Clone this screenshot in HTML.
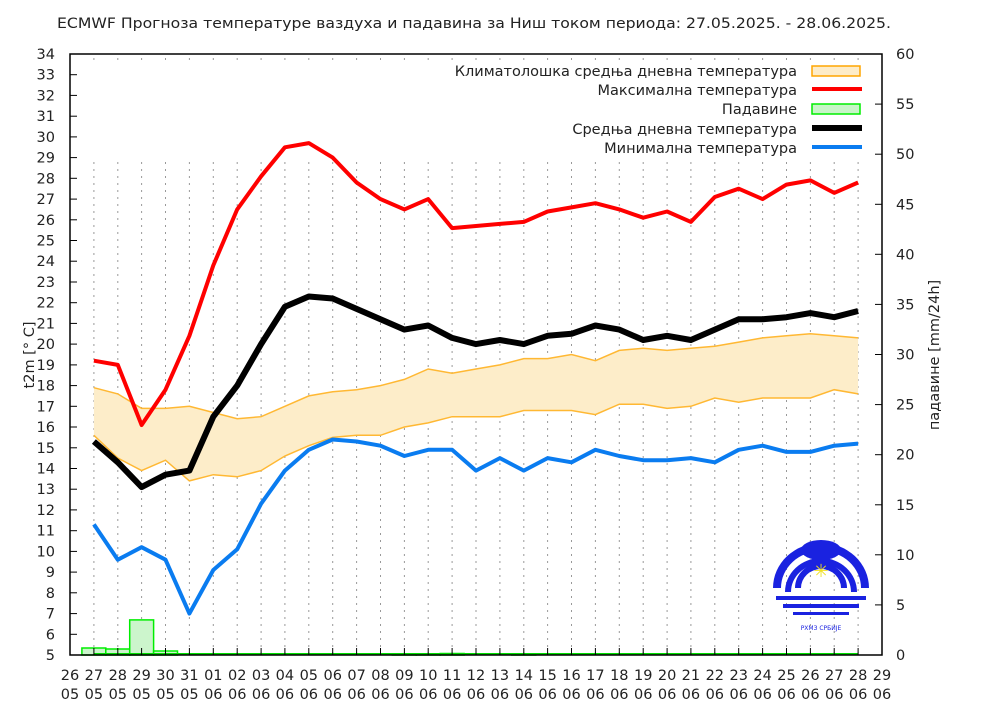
<!DOCTYPE html>
<html><head><meta charset="utf-8"><style>
html,body{margin:0;padding:0;background:#fff;}
svg{display:block;font-family:"DejaVu Sans","Liberation Sans",sans-serif;}
</style></head><body>
<svg id="s" width="996" height="712" viewBox="0 0 996 712" xmlns="http://www.w3.org/2000/svg">
<rect width="996" height="712" fill="#fff"/>
<text x="474" y="28" font-size="14.5" text-anchor="middle" fill="#222" textLength="834" lengthAdjust="spacingAndGlyphs">ECMWF Прогноза температуре ваздуха и падавина за Ниш током периода: 27.05.2025. - 28.06.2025.</text>
<g id="g"></g>
<text transform="translate(34,355) rotate(-90)" font-size="14.5" text-anchor="middle" fill="#222">t2m [° C]</text>
<text transform="translate(939,355) rotate(-90)" font-size="14.5" text-anchor="middle" fill="#222">падавине [mm/24h]</text>
<g font-size="14.5" fill="#222" text-anchor="end">
<text x="797" y="76">Климатолошка средња дневна температура</text>
<text x="797" y="95">Максимална температура</text>
<text x="797" y="114">Падавине</text>
<text x="797" y="134">Средња дневна температура</text>
<text x="797" y="153">Минимална температура</text>
</g>
<rect x="812" y="66" width="48" height="10" fill="#fdecc8" stroke="#ffa500" stroke-width="1.5"/>
<line x1="812" y1="89" x2="862" y2="89" stroke="#ff0000" stroke-width="4"/>
<rect x="812" y="104" width="48" height="10" fill="#c8f5c8" stroke="#00ee00" stroke-width="1.5"/>
<line x1="812" y1="128" x2="862" y2="128" stroke="#000" stroke-width="6"/>
<line x1="812" y1="147" x2="862" y2="147" stroke="#0a7cf0" stroke-width="4"/>
<g transform="translate(821,578)">
<path d="M-48,10 A48,45 0 1 1 48,10 L40,10 A40,37 0 1 0 -40,10 Z" fill="#1a22e0"/>
<path d="M-36,14 A36,34 0 1 1 36,14 L30,14 A30,28 0 1 0 -30,14 Z" fill="#1a22e0"/>
<path d="M-26,10 A26,25 0 1 1 26,10 L20,10 A20,19 0 1 0 -20,10 Z" fill="#1a22e0"/>
<rect x="-45" y="18" width="90" height="4" fill="#1a22e0"/>
<rect x="-38" y="26" width="76" height="4" fill="#1a22e0"/>
<rect x="-28" y="34" width="56" height="3" fill="#1a22e0"/>
<ellipse cx="0" cy="-28" rx="20" ry="10" fill="#1a22e0"/>
<text x="0" y="-1" font-size="18" fill="#f0e020" text-anchor="middle">✳</text>
<text x="0" y="52" font-size="6" fill="#1a22e0" text-anchor="middle">РХМЗ СРБИЈЕ</text>
</g>
</svg>
<script>
const g=document.getElementById('g');
const L=70,R=882,T=54,B=655,dx=(R-L)/34;
const Y=v=>T+(34-v)*(B-T)/29, P=v=>B-v*(B-T)/60, X=i=>L+i*dx;
let h='';
for(let i=1;i<34;i++){const x=X(i).toFixed(1);h+=`<line x1="${x}" y1="58" x2="${x}" y2="64" stroke="#999" stroke-dasharray="2,5"/><line x1="${x}" y1="162" x2="${x}" y2="${B}" stroke="#999" stroke-dasharray="2,5"/>`;}
const mx=[19.2,19.0,16.1,17.8,20.4,23.8,26.5,28.1,29.5,29.7,29.0,27.8,27.0,26.5,27.0,25.6,25.7,25.8,25.9,26.4,26.6,26.8,26.5,26.1,26.4,25.9,27.1,27.5,27.0,27.7,27.9,27.3,27.8];
const mn=[15.3,14.3,13.1,13.7,13.9,16.5,18.0,20.0,21.8,22.3,22.2,21.7,21.2,20.7,20.9,20.3,20.0,20.2,20.0,20.4,20.5,20.9,20.7,20.2,20.4,20.2,20.7,21.2,21.2,21.3,21.5,21.3,21.6];
const mi=[11.3,9.6,10.2,9.6,7.0,9.1,10.1,12.3,13.9,14.9,15.4,15.3,15.1,14.6,14.9,14.9,13.9,14.5,13.9,14.5,14.3,14.9,14.6,14.4,14.4,14.5,14.3,14.9,15.1,14.8,14.8,15.1,15.2];
const cu=[17.9,17.6,16.9,16.9,17.0,16.7,16.4,16.5,17.0,17.5,17.7,17.8,18.0,18.3,18.8,18.6,18.8,19.0,19.3,19.3,19.5,19.2,19.7,19.8,19.7,19.8,19.9,20.1,20.3,20.4,20.5,20.4,20.3];
const cl=[15.6,14.5,13.9,14.4,13.4,13.7,13.6,13.9,14.6,15.1,15.5,15.6,15.6,16.0,16.2,16.5,16.5,16.5,16.8,16.8,16.8,16.6,17.1,17.1,16.9,17.0,17.4,17.2,17.4,17.4,17.4,17.8,17.6];
const pr=[0.7,0.6,3.5,0.4,0,0,0,0,0,0,0,0,0,0.1,0.1,0.15,0,0,0.1,0,0,0,0,0,0,0,0,0,0,0,0,0,0];
const pts=a=>a.map((v,i)=>X(i+1).toFixed(1)+','+Y(v).toFixed(1)).join(' ');
h+=`<polygon points="${pts(cu)} ${cl.map((v,i)=>X(i+1).toFixed(1)+','+Y(v).toFixed(1)).reverse().join(' ')}" fill="#fdedc9"/>`;
h+=`<polyline points="${pts(cu)}" fill="none" stroke="#ffb833" stroke-width="1.5"/><polyline points="${pts(cl)}" fill="none" stroke="#ffb833" stroke-width="1.5"/>`;
pr.forEach((v,i)=>{if(v>0.05){const x=X(i+1)-dx/2;h+=`<rect x="${x.toFixed(1)}" y="${P(v).toFixed(1)}" width="${dx.toFixed(1)}" height="${(B-P(v)).toFixed(1)}" fill="#ccf5cc" stroke="#00ee00" stroke-width="1.5"/>`;}});
h+=`<line x1="${X(1)}" y1="${B-1}" x2="${X(33)}" y2="${B-1}" stroke="#00dd00" stroke-width="2"/>`;
h+=`<polyline points="${pts(mx)}" fill="none" stroke="#ff0000" stroke-width="4" stroke-linejoin="round"/>`;
h+=`<polyline points="${pts(mn)}" fill="none" stroke="#000" stroke-width="6" stroke-linejoin="round"/>`;
h+=`<polyline points="${pts(mi)}" fill="none" stroke="#0a7cf0" stroke-width="4" stroke-linejoin="round"/>`;
h+=`<rect x="${L}" y="${T}" width="${R-L}" height="${B-T}" fill="none" stroke="#000" stroke-width="1.5"/>`;
for(let v=5;v<=34;v++){const y=Y(v).toFixed(1);h+=`<line x1="${L}" y1="${y}" x2="${L+7}" y2="${y}" stroke="#000"/><text x="55" y="${(+y+5).toFixed(1)}" font-size="14.5" text-anchor="end" fill="#222">${v}</text>`;}
for(let v=0;v<=60;v+=5){const y=P(v).toFixed(1);h+=`<line x1="${R-7}" y1="${y}" x2="${R}" y2="${y}" stroke="#000"/><text x="896" y="${(+y+5).toFixed(1)}" font-size="14.5" fill="#222">${v}</text>`;}
const d=[];for(let i=26;i<=31;i++)d.push([i,'05']);for(let i=1;i<=29;i++)d.push([String(i).padStart(2,'0'),'06']);
d.forEach((p,i)=>{const x=X(i).toFixed(1);h+=`<line x1="${x}" y1="${B-7}" x2="${x}" y2="${B}" stroke="#000"/><text x="${x}" y="680" font-size="14.5" text-anchor="middle" fill="#222">${p[0]}</text><text x="${x}" y="699" font-size="14.5" text-anchor="middle" fill="#222">${p[1]}</text>`;});
g.innerHTML=h;
</script>
</body></html>
